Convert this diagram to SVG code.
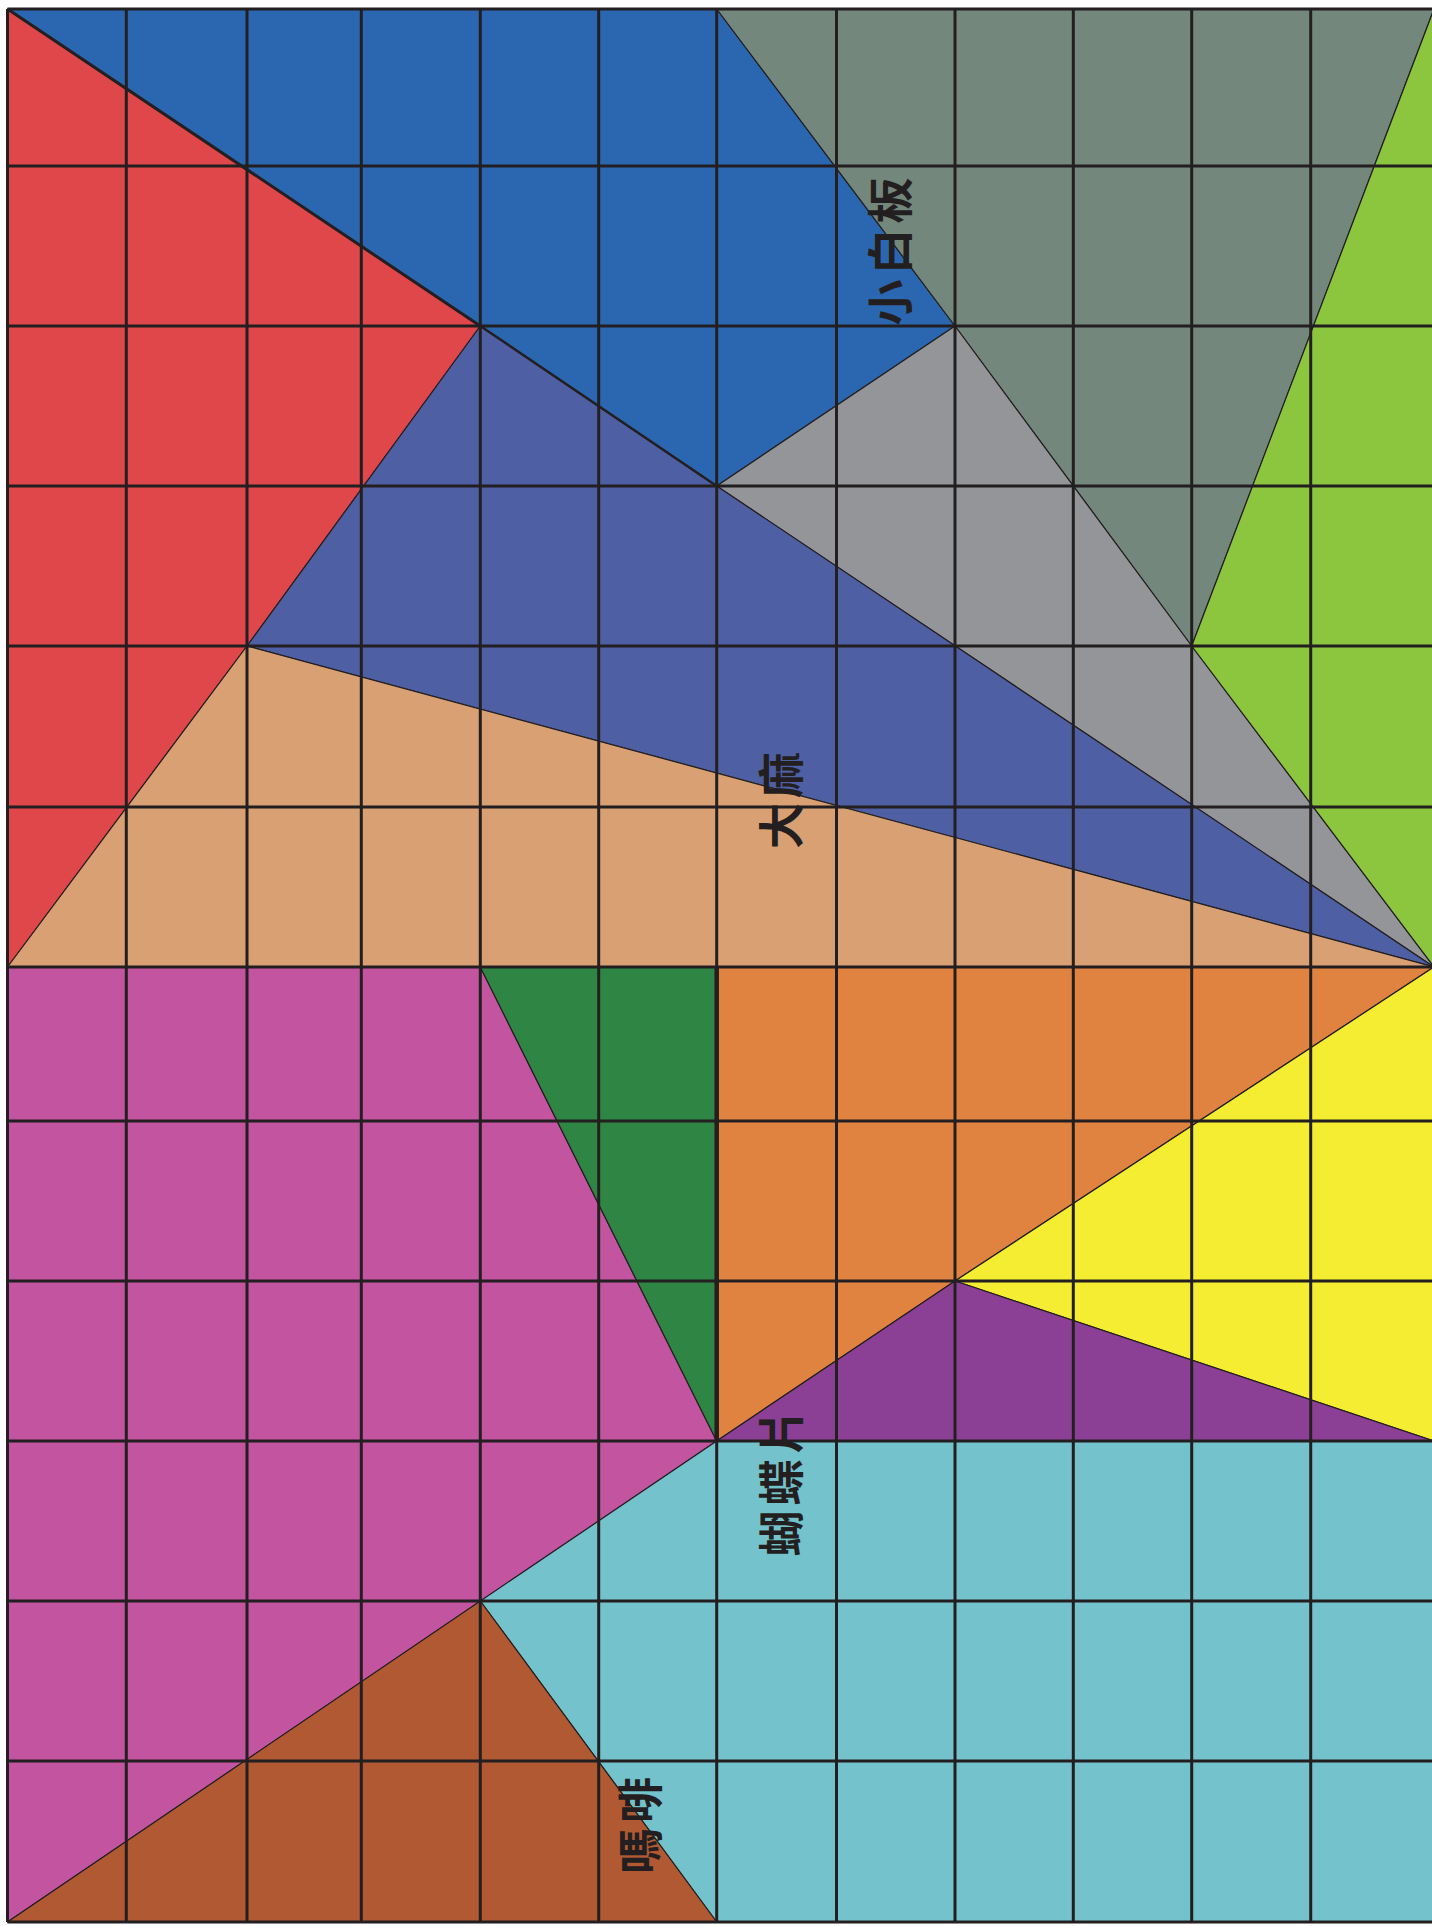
<svg xmlns="http://www.w3.org/2000/svg" width="1432" height="1926" viewBox="0 0 1432 1926">
<style>
.p{stroke:#231f20;stroke-width:1.2;stroke-linejoin:round}
.g line{stroke:#231f20;stroke-width:3}
.t{font-family:"Noto Sans CJK TC","Noto Sans CJK SC",sans-serif;font-weight:700;font-size:46px;letter-spacing:5px;fill:#231f20;text-anchor:middle;dominant-baseline:central}
</style>
<rect width="1432" height="1926" fill="#ffffff"/>
<g id="shapes">
<polygon id="blue" class="p" fill="#2b67b1" points="7.5,9 716.7,9 955,326 716.7,486 480.3,326"/>
<polygon id="red" class="p" fill="#df474b" points="7.5,9 480.3,326 247,646 7.5,967"/>
<polygon id="graygreen" class="p" fill="#74877c" points="716.7,9 1434,9 1191.7,646 955,326"/>
<polygon id="lightgray" class="p" fill="#939598" points="955,326 716.7,486 1434,967 1191.7,646"/>
<polygon id="green" class="p" fill="#8cc63f" points="1434,9 1191.7,646 1434,967"/>
<polygon id="bluepurple" class="p" fill="#4e5fa3" points="480.3,326 716.7,486 1434,967 247,646"/>
<polygon id="tan" class="p" fill="#d9a073" points="247,646 1434,967 7.5,967"/>
<polygon id="magenta" class="p" fill="#c355a0" points="7.5,967 480.3,967 716.7,1441 7.5,1922"/>
<polygon id="darkgreen" class="p" fill="#2f8544" points="480.3,967 716.7,967 716.7,1441"/>
<polygon id="orange" class="p" fill="#e08240" points="716.7,967 1434,967 955,1281 716.7,1441"/>
<polygon id="yellow" class="p" fill="#f4ed32" points="1434,967 1434,1441 955,1281"/>
<polygon id="purple" class="p" fill="#8b4096" points="955,1281 1434,1441 716.7,1441"/>
<polygon id="cyan" class="p" fill="#74c2cc" points="716.7,1441 1434,1441 1434,1922 716.7,1922 480.3,1601"/>
<polygon id="brown" class="p" fill="#b05932" points="480.3,1601 716.7,1922 7.5,1922"/>
<line x1="7.5" y1="9" x2="480.3" y2="326" stroke="#231f20" stroke-width="3"/>
<line x1="480.3" y1="326" x2="716.7" y2="486" stroke="#231f20" stroke-width="2.5"/>
<line x1="716.7" y1="967" x2="716.7" y2="1441" stroke="#231f20" stroke-width="4.5"/>
</g>
<g id="grid" class="g">
<line x1="7.5" y1="9" x2="7.5" y2="1922"/>
<line x1="126.3" y1="9" x2="126.3" y2="1922"/>
<line x1="247" y1="9" x2="247" y2="1922"/>
<line x1="361.3" y1="9" x2="361.3" y2="1922"/>
<line x1="480.3" y1="9" x2="480.3" y2="1922"/>
<line x1="598.7" y1="9" x2="598.7" y2="1922"/>
<line x1="716.7" y1="9" x2="716.7" y2="1922"/>
<line x1="836.5" y1="9" x2="836.5" y2="1922"/>
<line x1="955" y1="9" x2="955" y2="1922"/>
<line x1="1073.3" y1="9" x2="1073.3" y2="1922"/>
<line x1="1191.7" y1="9" x2="1191.7" y2="1922"/>
<line x1="1310.7" y1="9" x2="1310.7" y2="1922"/>
<line x1="7.5" y1="9" x2="1432" y2="9"/>
<line x1="7.5" y1="166" x2="1432" y2="166"/>
<line x1="7.5" y1="326" x2="1432" y2="326"/>
<line x1="7.5" y1="486" x2="1432" y2="486"/>
<line x1="7.5" y1="646" x2="1432" y2="646"/>
<line x1="7.5" y1="807" x2="1432" y2="807"/>
<line x1="7.5" y1="967" x2="1432" y2="967"/>
<line x1="7.5" y1="1121" x2="1432" y2="1121"/>
<line x1="7.5" y1="1281" x2="1432" y2="1281"/>
<line x1="7.5" y1="1441" x2="1432" y2="1441"/>
<line x1="7.5" y1="1601" x2="1432" y2="1601"/>
<line x1="7.5" y1="1761" x2="1432" y2="1761"/>
<line x1="7.5" y1="1922" x2="1432" y2="1922"/>
</g>
<g id="labels">
<text id="label-xiaobaiban" class="t" transform="translate(887,249) rotate(-90)">小白板</text>
<text id="label-dama" class="t" transform="translate(778,798) rotate(-90)">大麻</text>
<text id="label-hudiepian" class="t" transform="translate(778,1480) rotate(-90)">蝴蝶片</text>
<text id="label-mafei" class="t" transform="translate(637,1823) rotate(-90)">嗎啡</text>
</g>
</svg>
